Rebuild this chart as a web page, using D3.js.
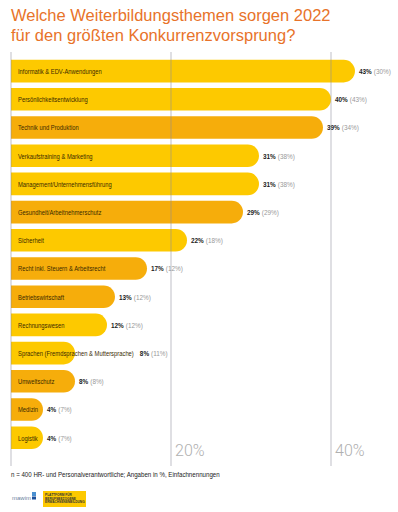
<!DOCTYPE html>
<html>
<head>
<meta charset="utf-8">
<script src="https://cdn.jsdelivr.net/npm/d3@7"></script>
<style>
  body { margin: 0; background: #fff; }
  svg { display: block; }
</style>
</head>
<body>
<div id="chart"></div>
<script>
// data
const topics = [
  "Informatik & EDV-Anwendungen",
  "Persönlichkeitsentwicklung",
  "Technik und Produktion",
  "Verkaufstraining & Marketing",
  "Management/Unternehmensführung",
  "Gesundheit/Arbeitnehmerschutz",
  "Sicherheit",
  "Recht inkl. Steuern & Arbeitsrecht",
  "Betriebswirtschaft",
  "Rechnungswesen",
  "Sprachen (Fremdsprachen & Muttersprache)",
  "Umweltschutz",
  "Medizin",
  "Logistik"
];
const values2022 = [43, 40, 39, 31, 31, 29, 22, 17, 13, 12, 8, 8, 4, 4];
const valuesPrev = [30, 43, 34, 38, 38, 29, 18, 12, 12, 12, 11, 8, 7, 7];
const barTone = ["y", "y", "o", "y", "y", "o", "y", "o", "o", "y", "y", "o", "o", "y"];
const gridTicks = [0, 20, 40];
const tickLabels = ["", "20%", "40%"];

const width = 398, height = 512;
const margin = {top: 57, left: 11};

const svg = d3.select('#chart').append('svg')
    .attr('width', width)
    .attr('height', height);

const font = 'Liberation Sans, Arial, sans-serif';

// narrow text: no condensed face installed, so squeeze it with a transform
function narrowText(parent, tx, ty, k, str) {
  const t = parent.append('text')
      .attr('transform', `translate(${tx},${ty}) scale(${k},1)`)
      .attr('font-family', font)
      .attr('font-size', '8px')
      .text(str);
  t.width = () => t.node().getComputedTextLength() * k;
  return t;
}

// title
const title = svg.append('text')
    .attr('x', 11)
    .attr('y', 21)
    .attr('fill', '#E8732A')
    .attr('font-family', font)
    .attr('font-size', '16.5px');
title.append('tspan').attr('x', 11).text('Welche Weiterbildungsthemen sorgen 2022');
title.append('tspan').attr('x', 11).attr('dy', 20).text('für den größten Konkurrenzvorsprung?');

const x = d3.scaleLinear()
    .domain([0, 1])
    .range([margin.left, margin.left + 8]);

const y = d3.scaleBand()
    .domain(topics)
    .range([margin.top, margin.top + 28.2 * topics.length])
    .paddingInner(0.2)
    .paddingOuter(0.1);

const color = d3.scaleOrdinal()
    .domain(["y", "o"])
    .range(["#FDC900", "#F6AD0B"]);

const rows = svg.append('g').selectAll('g')
    .data(topics)
    .join('g');

// rounded bars with flat left end
const bh = y.bandwidth();
rows.append('path')
    .attr('fill', (d, i) => color(barTone[i]))
    .attr('d', (d, i) => {
      const x0 = x(0), x1 = x(values2022[i]), y0 = y(d), r = bh / 2;
      return `M${x0},${y0} H${x1 - r} A${r},${r} 0 0 1 ${x1 - r},${y0 + bh} H${x0} Z`;
    });

rows.each(function(d, i) {
  const g = d3.select(this);
  const cy = y(d) + bh / 2 + 2.8;
  const lbl = narrowText(g, 18, cy, 0.73, d).attr('fill', '#3a2a00');
  const labelEnd = 18 + lbl.width();
  const barEnd = x(values2022[i]);
  const start = Math.max(barEnd, labelEnd + 2) + 4;
  const v = narrowText(g, start, cy, 0.8, values2022[i] + '%')
      .attr('font-weight', 'bold')
      .attr('fill', '#222');
  narrowText(g, start + v.width() + 2, cy, 0.8, '(' + valuesPrev[i] + '%)')
      .attr('fill', '#999');
});

// grid lines on top
const grid = svg.append('g');
grid.selectAll('line')
    .data(gridTicks)
    .join('line')
    .attr('x1', d => x(d))
    .attr('x2', d => x(d))
    .attr('y1', 52)
    .attr('y2', 466)
    .attr('stroke', '#8a8a9a')
    .attr('stroke-opacity', 0.55)
    .attr('stroke-width', 1);

grid.selectAll('text')
    .data(gridTicks)
    .join('text')
    .attr('x', d => x(d) + 4)
    .attr('y', 456)
    .attr('font-family', 'Roboto, Liberation Sans, sans-serif')
    .attr('font-weight', '300')
    .attr('font-size', '16px')
    .attr('fill', '#b0b0b0')
    .text((d, i) => tickLabels[i]);

// footnote
narrowText(svg, 11, 477, 0.77, 'n = 400 HR- und Personalverantwortliche; Angaben in %, Einfachnennungen')
    .attr('fill', '#222');

// logos
const logo = svg.append('g');
logo.append('text')
    .attr('x', 12)
    .attr('y', 500)
    .attr('font-family', font)
    .attr('font-size', '6px')
    .attr('fill', '#6a7fa0')
    .text('mawim');
logo.append('rect').attr('x', 32).attr('y', 492).attr('width', 4).attr('height', 4).attr('fill', '#4a8fd0');
logo.append('rect').attr('x', 32).attr('y', 496.5).attr('width', 4).attr('height', 3).attr('fill', '#1c4f9a');
logo.append('rect').attr('x', 43).attr('y', 491).attr('width', 43).attr('height', 16).attr('fill', '#FDC900');
const lt = logo.append('text')
    .attr('font-family', font)
    .attr('font-size', '3.2px')
    .attr('font-weight', 'bold')
    .attr('fill', '#333');
['PLATTFORM FÜR', 'BERUFSBEZOGENE', 'ERWACHSENENBILDUNG'].forEach((s, i) => {
  lt.append('tspan').attr('x', 45).attr('y', 496 + i * 3.6).text(s);
});
</script>
</body>
</html>
